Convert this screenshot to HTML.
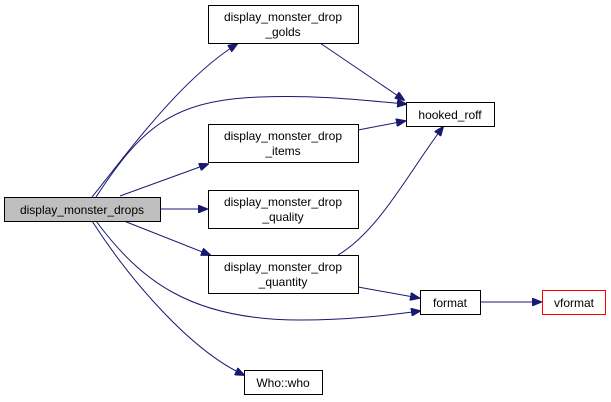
<!DOCTYPE html>
<html><head><style>
body{margin:0;background:#fff;}
svg{display:block;}
text{font-family:"Liberation Sans",Arial,sans-serif;font-size:12px;fill:#000;}
</style></head><body>
<svg width="611" height="402" viewBox="0 0 611 402" xmlns="http://www.w3.org/2000/svg">
<defs><marker id="a" markerWidth="10" markerHeight="8" refX="9" refY="4" orient="auto" markerUnits="userSpaceOnUse"><path d="M0,0 L10,4 L0,8 z" fill="#191970" stroke="#191970"/></marker></defs>
<g fill="none" stroke="#191970" stroke-width="1" marker-end="url(#a)">
<path d="M92,197 C130,150 180,80 237,44"/>
<path d="M96,197 C140,130 170,100 260,97 C320,95 360,100 406,104"/>
<path d="M120,196 L208,164"/>
<path d="M160,209 L207,209"/>
<path d="M124,221 L210,255"/>
<path d="M96,221 C140,280 190,320 300,320 C350,320 390,315 420,311"/>
<path d="M92,221 C130,280 190,350 244,375"/>
<path d="M320,43 L404,100"/>
<path d="M358,130 L405,121"/>
<path d="M338,255 C380,230 410,170 443,127"/>
<path d="M358,287 L419,298"/>
<path d="M480,302 L541,302"/>
</g>
<g stroke="#000" stroke-width="1">
<rect x="4.5" y="197.5" width="156" height="24" fill="#bfbfbf"/>
<rect x="208.5" y="5.5" width="150" height="38" fill="#fff"/>
<rect x="406.5" y="102.5" width="88" height="24" fill="#fff"/>
<rect x="208.5" y="124.5" width="150" height="38" fill="#fff"/>
<rect x="208.5" y="190.5" width="150" height="38" fill="#fff"/>
<rect x="208.5" y="255.5" width="150" height="38" fill="#fff"/>
<rect x="420.5" y="290.5" width="60" height="24" fill="#fff"/>
<rect x="542.5" y="290.5" width="63" height="24" fill="#fff" stroke="#ff0000"/>
<rect x="244.5" y="370.5" width="78" height="24" fill="#fff"/>
</g>
<g text-anchor="middle">
<text x="82" y="214">display_monster_drops</text>
<text x="283" y="21">display_monster_drop</text><text x="283" y="36">_golds</text>
<text x="450" y="119">hooked_roff</text>
<text x="283" y="140">display_monster_drop</text><text x="283" y="155">_items</text>
<text x="283" y="206">display_monster_drop</text><text x="283" y="221">_quality</text>
<text x="283" y="271">display_monster_drop</text><text x="283" y="286">_quantity</text>
<text x="450" y="307">format</text>
<text x="574" y="307">vformat</text>
<text x="283" y="387">Who::who</text>
</g>
</svg>
</body></html>
